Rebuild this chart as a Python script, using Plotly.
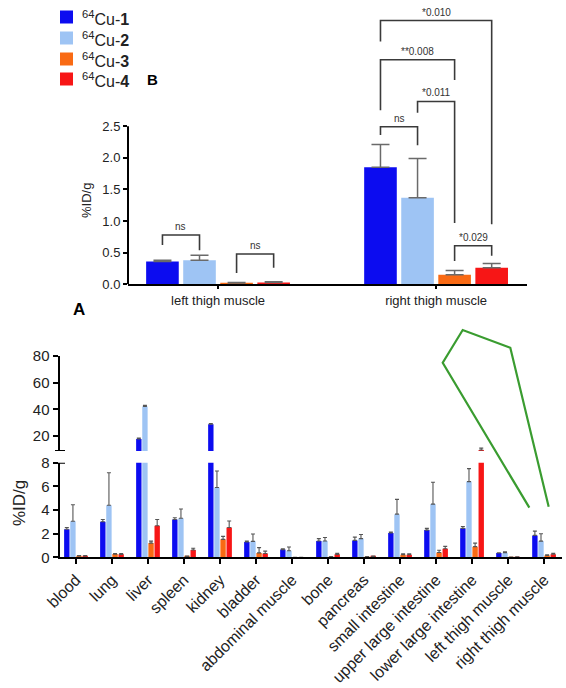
import plotly.graph_objects as go

W, H = 566, 688


def px(x):
    return x / W


def py(y):
    return 1 - y / H


# ---------------- data ----------------
series_names = ['<sup>64</sup>Cu-<b>1</b>', '<sup>64</sup>Cu-<b>2</b>',
                '<sup>64</sup>Cu-<b>3</b>', '<sup>64</sup>Cu-<b>4</b>']
colors = ['#0c0cf0', '#9ec4f4', '#f96a14', '#f71616']

# panel B (thigh muscles)
thigh_categories = ['left thigh muscle', 'right thigh muscle']
thigh_cu1 = [0.36, 1.85]
thigh_cu1_err = [0.02, 0.36]
thigh_cu2 = [0.38, 1.37]
thigh_cu2_err = [0.08, 0.62]
thigh_cu3 = [0.02, 0.15]
thigh_cu3_err = [0.01, 0.07]
thigh_cu4 = [0.03, 0.26]
thigh_cu4_err = [0.01, 0.07]
thigh_ticks = [0, 0.5, 1.0, 1.5, 2.0, 2.5]

# significance brackets: (category, bar a, bar b, top, leg a bottom, leg b bottom, label)
brackets = [
    (0, 0, 1, 0.78, 0.62, 0.54, 'ns'),
    (0, 2, 3, 0.48, 0.18, 0.26, 'ns'),
    (1, 0, 1, 2.49, 2.36, 2.20, 'ns'),
    (1, 1, 2, 2.89, 2.71, 0.97, '*0.011'),
    (1, 0, 2, 3.55, 2.75, 3.23, '**0.008'),
    (1, 0, 3, 4.17, 3.84, 0.95, '*0.010'),
    (1, 2, 3, 0.61, 0.37, 0.45, '*0.029'),
]

# panel A (biodistribution)
organs = ['blood', 'lung', 'liver', 'spleen', 'kidney', 'bladder', 'abdominal muscle',
          'bone', 'pancreas', 'small intestine', 'upper large intestine',
          'lower large intestine', 'left thigh muscle', 'right thigh muscle']
organ_cu1 = [2.37, 3.0, 17.8, 3.2, 28.8, 1.3, 0.65, 1.38, 1.43, 2.05, 2.3, 2.45, 0.36, 1.85]
organ_cu1_err = [0.15, 0.2, 0.7, 0.15, 0.6, 0.08, 0.06, 0.2, 0.28, 0.08, 0.15, 0.15, 0.02, 0.36]
organ_cu2 = [3.05, 4.4, 42.2, 3.3, 5.9, 1.35, 0.55, 1.38, 1.58, 3.65, 4.5, 6.4, 0.38, 1.37]
organ_cu2_err = [1.4, 2.75, 0.8, 0.78, 1.4, 0.62, 0.32, 0.3, 0.35, 1.25, 1.85, 1.1, 0.08, 0.62]
organ_cu3 = [0.12, 0.27, 1.2, 0.08, 1.52, 0.37, 0.0, 0.05, 0.05, 0.22, 0.4, 0.9, 0.02, 0.15]
organ_cu3_err = [0.03, 0.05, 0.17, 0.02, 0.25, 0.45, 0.0, 0.02, 0.02, 0.08, 0.2, 0.3, 0.01, 0.07]
organ_cu4 = [0.12, 0.25, 2.67, 0.62, 2.52, 0.32, 0.0, 0.25, 0.08, 0.22, 0.72, 9.5, 0.03, 0.26]
organ_cu4_err = [0.03, 0.07, 0.53, 0.15, 0.55, 0.2, 0.0, 0.08, 0.02, 0.08, 0.2, 1.4, 0.01, 0.07]
low_ticks = [0, 2, 4, 6, 8]
high_ticks = [20, 40, 60, 80]

# ---------------- figure ----------------
FONT = 'Liberation Sans, Arial, sans-serif'
TXT = '#222222'
BARGAP, GROUPGAP = 0.32, 0.12

fig = go.Figure()

thigh_vals = [thigh_cu1, thigh_cu2, thigh_cu3, thigh_cu4]
thigh_errs = [thigh_cu1_err, thigh_cu2_err, thigh_cu3_err, thigh_cu4_err]
for i in range(4):
    fig.add_trace(go.Bar(
        x=thigh_categories, y=thigh_vals[i], name=series_names[i],
        marker=dict(color=colors[i], line=dict(width=0)),
        error_y=dict(type='data', array=thigh_errs[i], arrayminus=[0] * 2,
                     symmetric=False, color='#6a6a6a', thickness=1.5, width=9),
        xaxis='x', yaxis='y', showlegend=False))

organ_vals = [organ_cu1, organ_cu2, organ_cu3, organ_cu4]
organ_errs = [organ_cu1_err, organ_cu2_err, organ_cu3_err, organ_cu4_err]
for ya in ['y2', 'y3']:
    for i in range(4):
        fig.add_trace(go.Bar(
            x=organs, y=organ_vals[i], name=series_names[i],
            marker=dict(color=colors[i], line=dict(width=0)),
            error_y=dict(type='data', array=organ_errs[i], arrayminus=[0] * len(organs),
                         symmetric=False, color='#555555', thickness=1.1, width=2),
            xaxis='x2', yaxis=ya, showlegend=False))

# bar centre offsets inside a group
slot = (1 - BARGAP) / 4
offsets = [-(1 - BARGAP) / 2 + slot * (k + 0.5) for k in range(4)]

shapes = []
annotations = []
BR = '#3a3a3a'
for cat, a, b, top, la, lb, lab in brackets:
    xa = cat + offsets[a]
    xb = cat + offsets[b]
    path = f'M {xa},{la} L {xa},{top} L {xb},{top} L {xb},{lb}'
    shapes.append(dict(type='path', path=path, xref='x', yref='y',
                       line=dict(color=BR, width=1.6)))
    annotations.append(dict(x=(xa + xb) / 2, y=top, xref='x', yref='y', text=lab,
                            showarrow=False, xanchor='center', yanchor='bottom', yshift=1,
                            font=dict(size=10, color='#333333', family=FONT)))

# y axis line of panel B, only from 0 to 2.5
shapes.append(dict(type='line', xref='paper', yref='y', x0=px(128), x1=px(128),
                   y0=0, y1=thigh_ticks[-1], line=dict(color='black', width=2)))

# axis-break stubs on panel A
for yref, yv in [('y3', 8.75), ('y2', 8)]:
    shapes.append(dict(type='line', xref='paper', yref=yref, x0=px(55), x1=px(65),
                       y0=yv, y1=yv, line=dict(color='black', width=2)))

# green outline
pts = [(529.3, 507.7), (442.7, 362.7), (462.7, 330), (510.3, 347.7), (548.7, 506.7)]
gpath = 'M ' + ' L '.join(f'{px(x):.4f},{py(y):.4f}' for x, y in pts)
shapes.append(dict(type='path', path=gpath, xref='paper', yref='paper',
                   line=dict(color='#3a9c30', width=2.2)))

# legend (key boxes + labels)
legend_rows = [17, 38, 59, 79]
for i, yc in enumerate(legend_rows):
    shapes.append(dict(type='rect', xref='paper', yref='paper',
                       x0=px(60), x1=px(73), y0=py(yc + 6.5), y1=py(yc - 6.5),
                       fillcolor=colors[i], line=dict(width=0)))
    annotations.append(dict(x=px(80), y=py(yc), xref='paper', yref='paper',
                            text=series_names[i], showarrow=False,
                            xanchor='left', yanchor='middle', yshift=-1,
                            font=dict(size=16, color=TXT, family=FONT)))

annotations += [
    dict(x=px(87), y=py(201), xref='paper', yref='paper', text='%ID/g', textangle=-90,
         xanchor='center', yanchor='middle',
         showarrow=False, font=dict(size=13, color=TXT, family=FONT)),
    dict(x=px(19), y=py(503), xref='paper', yref='paper', text='%ID/g', textangle=-90,
         xanchor='center', yanchor='middle',
         showarrow=False, font=dict(size=17, color=TXT, family=FONT)),
    dict(x=px(79), y=py(309), xref='paper', yref='paper', text='<b>A</b>',
         xanchor='center', yanchor='middle',
         showarrow=False, font=dict(size=17, color='black', family=FONT)),
    dict(x=px(152), y=py(80), xref='paper', yref='paper', text='<b>B</b>',
         xanchor='center', yanchor='middle',
         showarrow=False, font=dict(size=15, color='black', family=FONT)),
]

axis_common = dict(showgrid=False, zeroline=False, color='black', automargin=False,
                   tickfont=dict(color=TXT, family=FONT))

fig.update_layout(
    width=W, height=H,
    margin=dict(l=0, r=0, t=0, b=0, pad=0, autoexpand=False),
    paper_bgcolor='white', plot_bgcolor='white',
    font=dict(family=FONT, color=TXT),
    showlegend=False,
    barmode='group', bargap=BARGAP, bargroupgap=GROUPGAP,
    xaxis=dict(**axis_common, domain=[px(128), px(527)], anchor='y',
               type='category', range=[-0.413, 1.417],
               showline=True, linewidth=2, linecolor='black',
               ticks='outside', ticklen=3, tickwidth=1.5),
    yaxis=dict(**axis_common, domain=[py(284.3), py(2.8)], anchor='x',
               range=[0, 4.45], tickvals=thigh_ticks,
               ticktext=[f'{v:.1f}' for v in thigh_ticks],
               showline=False, ticks='outside', ticklen=4, tickwidth=1.5),
    xaxis2=dict(**axis_common, domain=[px(59.5), px(561.7)], anchor='y2',
                type='category', range=[-0.458, 13.49],
                showline=True, linewidth=2, linecolor='black',
                ticks='outside', ticklen=5, tickwidth=2, tickangle=-45),
    yaxis2=dict(**axis_common, domain=[py(557.3), py(462.7)], anchor='x2',
                range=[0, 8], tickvals=low_ticks,
                showline=True, linewidth=2, linecolor='black',
                ticks='outside', ticklen=5, tickwidth=2),
    yaxis3=dict(**axis_common, domain=[py(451), py(356)], anchor='x2',
                range=[8.75, 80], tickvals=high_ticks,
                showline=True, linewidth=2, linecolor='black',
                ticks='outside', ticklen=5, tickwidth=2),
    shapes=shapes, annotations=annotations,
)
fig.update_xaxes(tickfont_size=13, selector=dict(anchor='y'))
fig.update_yaxes(tickfont_size=13, selector=dict(anchor='x'))
fig.update_xaxes(tickfont_size=16, selector=dict(anchor='y2'))
fig.update_yaxes(tickfont_size=15, selector=dict(anchor='x2'))

post = ("document.documentElement.style.margin='0';"
        "document.documentElement.style.overflow='hidden';"
        "document.body.style.margin='0';"
        "document.body.style.overflow='hidden';")
fig.write_html('out.html', post_script=post, config={'displayModeBar': False})
